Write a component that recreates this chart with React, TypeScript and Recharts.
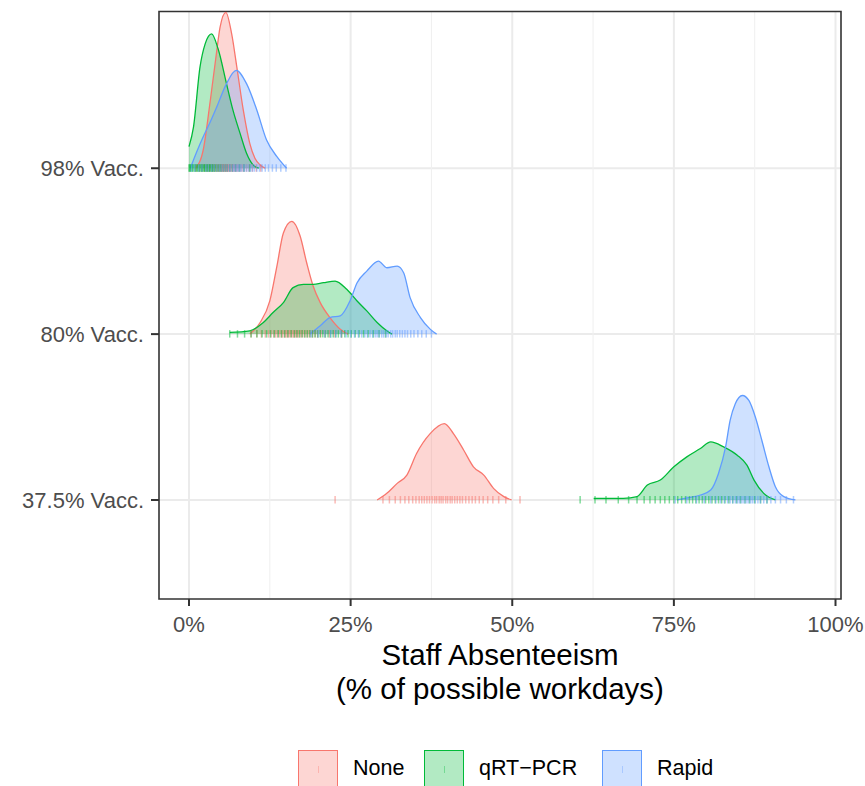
import React from 'react';
import {
  ComposedChart,
  Area,
  Line,
  Scatter,
  XAxis,
  YAxis,
  CartesianGrid,
  ReferenceArea,
  Legend,
} from 'recharts';

// ---------- data ----------
const groupLabels: Record<number, string> = { 1: '37.5% Vacc.', 2: '80% Vacc.', 3: '98% Vacc.' };
const yTicks = [1, 2, 3];
const xTicks = [0, 25, 50, 75, 100];
const xMinor = [12.5, 37.5, 62.5, 87.5];

const testNames = ['None', 'qRT\u2212PCR', 'Rapid'];
const testColors = ['#F8766D', '#00BA38', '#619CFF'];

// density ridges: x = % absenteeism, h = ridge height (in group units)
const none98 = [
  { x: 1.0, h: 0 }, { x: 2.2, h: 0.11 }, { x: 3.3, h: 0.41 }, { x: 4.3, h: 0.71 }, { x: 4.8, h: 0.85 },
  { x: 5.7, h: 0.94 }, { x: 6.6, h: 0.81 }, { x: 7.4, h: 0.61 }, { x: 8.4, h: 0.35 }, { x: 9.4, h: 0.15 },
  { x: 10.2, h: 0.06 }, { x: 11.0, h: 0.02 }, { x: 11.8, h: 0 },
];
const qpcr98 = [
  { x: 0, h: 0.13 }, { x: 0.7, h: 0.25 }, { x: 1.7, h: 0.61 }, { x: 2.5, h: 0.75 }, { x: 3.5, h: 0.81 },
  { x: 4.5, h: 0.72 }, { x: 5.8, h: 0.51 }, { x: 6.8, h: 0.35 }, { x: 7.9, h: 0.21 }, { x: 8.9, h: 0.09 },
  { x: 9.9, h: 0.02 }, { x: 10.8, h: 0 },
];
const rapid98 = [
  { x: 0.2, h: 0 }, { x: 1.2, h: 0.1 }, { x: 2.2, h: 0.19 }, { x: 3.3, h: 0.28 }, { x: 4.3, h: 0.37 },
  { x: 5.8, h: 0.51 }, { x: 7.3, h: 0.59 }, { x: 8.9, h: 0.51 }, { x: 10.5, h: 0.35 }, { x: 12.0, h: 0.17 },
  { x: 13.6, h: 0.07 }, { x: 15.1, h: 0 },
];
const none80 = [
  { x: 9.4, h: 0 }, { x: 11.0, h: 0.07 }, { x: 12.5, h: 0.2 }, { x: 13.6, h: 0.41 }, { x: 14.6, h: 0.61 },
  { x: 15.9, h: 0.68 }, { x: 17.2, h: 0.59 }, { x: 18.2, h: 0.43 }, { x: 19.2, h: 0.29 }, { x: 20.3, h: 0.19 },
  { x: 21.8, h: 0.1 }, { x: 23.4, h: 0.03 }, { x: 24.6, h: 0 },
];
const qpcr80 = [
  { x: 6.3, h: 0.01 }, { x: 9.4, h: 0.02 }, { x: 11.5, h: 0.07 }, { x: 13.0, h: 0.13 }, { x: 14.6, h: 0.19 },
  { x: 16.1, h: 0.28 }, { x: 17.7, h: 0.3 }, { x: 19.2, h: 0.3 }, { x: 20.8, h: 0.31 }, { x: 22.6, h: 0.32 },
  { x: 24.4, h: 0.27 }, { x: 26.0, h: 0.2 }, { x: 27.5, h: 0.14 }, { x: 29.1, h: 0.07 }, { x: 30.6, h: 0.02 },
  { x: 31.4, h: 0 },
];
const rapid80 = [
  { x: 18.7, h: 0 }, { x: 20.3, h: 0.05 }, { x: 21.8, h: 0.1 }, { x: 23.4, h: 0.11 }, { x: 24.9, h: 0.2 },
  { x: 26.0, h: 0.31 }, { x: 27.5, h: 0.38 }, { x: 29.3, h: 0.44 }, { x: 30.6, h: 0.4 }, { x: 32.2, h: 0.41 },
  { x: 33.2, h: 0.37 }, { x: 34.2, h: 0.22 }, { x: 35.8, h: 0.1 }, { x: 37.3, h: 0.03 }, { x: 38.3, h: 0 },
];
const none37 = [
  { x: 29.1, h: 0 }, { x: 30.6, h: 0.04 }, { x: 32.2, h: 0.1 }, { x: 33.7, h: 0.15 }, { x: 35.2, h: 0.28 },
  { x: 37.3, h: 0.4 }, { x: 39.5, h: 0.46 }, { x: 40.9, h: 0.4 }, { x: 42.5, h: 0.3 }, { x: 44.0, h: 0.2 },
  { x: 45.6, h: 0.15 }, { x: 47.1, h: 0.07 }, { x: 48.7, h: 0.02 }, { x: 49.9, h: 0 },
];
const qpcr37 = [
  { x: 62.6, h: 0.01 }, { x: 65.0, h: 0.01 }, { x: 67.2, h: 0.01 }, { x: 69.3, h: 0.02 }, { x: 70.9, h: 0.09 },
  { x: 72.9, h: 0.12 }, { x: 75.0, h: 0.2 }, { x: 77.0, h: 0.26 }, { x: 79.1, h: 0.31 }, { x: 80.7, h: 0.35 },
  { x: 82.7, h: 0.32 }, { x: 84.8, h: 0.27 }, { x: 86.3, h: 0.21 }, { x: 87.4, h: 0.12 }, { x: 88.9, h: 0.04 },
  { x: 90.7, h: 0 },
];
const rapid37 = [
  { x: 75.5, h: 0 }, { x: 77.5, h: 0.015 }, { x: 79.1, h: 0.03 }, { x: 80.7, h: 0.06 }, { x: 81.9, h: 0.16 },
  { x: 83.0, h: 0.32 }, { x: 83.7, h: 0.48 }, { x: 84.5, h: 0.58 }, { x: 85.6, h: 0.63 }, { x: 86.6, h: 0.6 },
  { x: 87.6, h: 0.5 }, { x: 88.6, h: 0.36 }, { x: 89.7, h: 0.2 }, { x: 90.7, h: 0.08 }, { x: 92.0, h: 0.02 },
  { x: 93.8, h: 0 },
];

// rug (individual simulation results), % absenteeism
const rugNone98 = [1.1, 1.6, 2.0, 2.4, 2.7, 3.0, 3.2, 3.5, 3.7, 3.9, 4.1, 4.3, 4.4, 4.6, 4.7, 4.9, 5.0, 5.1, 5.2, 5.3, 5.4, 5.5, 5.6, 5.7, 5.8, 5.9, 6.0, 6.1, 6.2, 6.4, 6.5, 6.7, 6.8, 7.0, 7.2, 7.4, 7.6, 7.9, 8.2, 8.5, 8.9, 9.3, 9.8, 10.4, 11.1];
const rugQpcr98 = [0, 0.1, 0.2, 0.3, 0.5, 0.6, 0.8, 1.0, 1.1, 1.3, 1.4, 1.6, 1.7, 1.9, 2.0, 2.1, 2.3, 2.4, 2.5, 2.7, 2.8, 2.9, 3.1, 3.2, 3.3, 3.5, 3.6, 3.7, 3.9, 4.0, 4.2, 4.4, 4.6, 4.8, 5.0, 5.3, 5.6, 5.9, 6.3, 6.7, 7.2, 7.8, 8.5, 9.4];
const rugRapid98 = [0.4, 0.9, 1.5, 2.0, 2.6, 3.0, 3.5, 3.9, 4.3, 4.7, 5.0, 5.3, 5.6, 5.9, 6.2, 6.4, 6.7, 6.9, 7.1, 7.3, 7.5, 7.7, 7.9, 8.1, 8.4, 8.6, 8.9, 9.2, 9.5, 9.8, 10.1, 10.5, 10.9, 11.3, 11.8, 12.3, 12.9, 13.5, 14.2, 15.0];
const rugNone80 = [9.6, 10.5, 11.2, 11.8, 12.3, 12.7, 13.1, 13.4, 13.7, 14.0, 14.3, 14.5, 14.8, 15.0, 15.2, 15.4, 15.6, 15.8, 16.0, 16.2, 16.4, 16.6, 16.8, 17.0, 17.3, 17.5, 17.8, 18.1, 18.4, 18.7, 19.1, 19.5, 19.9, 20.4, 21.0, 21.7, 22.5, 23.6];
const rugQpcr80 = [6.3, 7.5, 8.6, 9.6, 10.5, 11.3, 12.0, 12.6, 13.2, 13.8, 14.3, 14.8, 15.3, 15.8, 16.3, 16.7, 17.1, 17.5, 17.9, 18.3, 18.7, 19.1, 19.5, 19.9, 20.3, 20.7, 21.1, 21.5, 21.9, 22.3, 22.7, 23.1, 23.6, 24.1, 24.6, 25.1, 25.7, 26.3, 27.0, 27.7, 28.5, 29.4, 30.4];
const rugRapid80 = [18.9, 20.0, 21.0, 21.9, 22.7, 23.5, 24.3, 25.0, 25.6, 26.2, 26.7, 27.2, 27.6, 28.0, 28.4, 28.8, 29.1, 29.4, 29.8, 30.1, 30.5, 30.8, 31.2, 31.5, 31.9, 32.2, 32.6, 33.0, 33.4, 33.8, 34.3, 34.8, 35.4, 36.0, 36.7, 37.5];
const rugNone37 = [22.6, 30.0, 31.0, 31.9, 32.7, 33.4, 34.0, 34.6, 35.1, 35.6, 36.0, 36.4, 36.8, 37.2, 37.6, 38.0, 38.3, 38.7, 39.0, 39.3, 39.7, 40.0, 40.4, 40.7, 41.1, 41.5, 41.9, 42.3, 42.8, 43.3, 43.8, 44.3, 44.9, 45.5, 46.2, 47.0, 47.9, 49.0, 51.2];
const rugQpcr37 = [60.5, 62.8, 64.5, 66.4, 68.0, 69.3, 70.4, 71.3, 72.1, 72.9, 73.6, 74.3, 75.0, 75.6, 76.2, 76.8, 77.4, 77.9, 78.4, 78.9, 79.4, 79.9, 80.4, 80.9, 81.4, 81.9, 82.4, 82.9, 83.5, 84.1, 84.7, 85.3, 86.0, 86.7, 87.5, 88.4, 89.4];
const rugRapid37 = [75.2, 77.0, 78.5, 79.7, 80.7, 81.5, 82.2, 82.8, 83.3, 83.7, 84.1, 84.5, 84.8, 85.1, 85.4, 85.7, 86.0, 86.3, 86.6, 86.9, 87.2, 87.6, 88.0, 88.4, 88.9, 89.4, 90.0, 90.7, 91.5, 92.4, 93.5];

// ---------- layout constants ----------
const X_MIN = -4.64;
const X_MAX = 100.85;
const Y_MIN = 0.403;
const Y_MAX = 3.945;
const FONT = '"Liberation Sans", Arial, Helvetica, sans-serif';

type Pt = { x: number; h: number };
const ridges: { key: string; base: number; test: number; dens: Pt[]; rug: number[] }[] = [
  { key: 'n98', base: 3, test: 0, dens: none98, rug: rugNone98 },
  { key: 'q98', base: 3, test: 1, dens: qpcr98, rug: rugQpcr98 },
  { key: 'r98', base: 3, test: 2, dens: rapid98, rug: rugRapid98 },
  { key: 'n80', base: 2, test: 0, dens: none80, rug: rugNone80 },
  { key: 'q80', base: 2, test: 1, dens: qpcr80, rug: rugQpcr80 },
  { key: 'r80', base: 2, test: 2, dens: rapid80, rug: rugRapid80 },
  { key: 'n37', base: 1, test: 0, dens: none37, rug: rugNone37 },
  { key: 'q37', base: 1, test: 1, dens: qpcr37, rug: rugQpcr37 },
  { key: 'r37', base: 1, test: 2, dens: rapid37, rug: rugRapid37 },
];

const makeRugShape = (color: string) => (props: any) => {
  const { cx, cy } = props;
  if (cx == null || cy == null) return <g />;
  return <line x1={cx} x2={cx} y1={cy - 4} y2={cy + 3.5} stroke={color} strokeOpacity={0.5} strokeWidth={1.5} />;
};

const AxisTitle = (props: any) => {
  const vb = props.viewBox || { x: 159, y: 599, width: 682, height: 187 };
  const cx = vb.x + vb.width / 2;
  return (
    <text x={cx} y={vb.y + 66} textAnchor="middle" fill="#000" fontSize={29.5} fontFamily={FONT}>
      <tspan x={cx} dy={0}>Staff Absenteeism</tspan>
      <tspan x={cx} dy={33.5}>(% of possible workdays)</tspan>
    </text>
  );
};

const legendLefts = [298, 424, 602];
const legendTextLefts = [353, 479, 657];

function hexAlpha(hex: string, a: number) {
  const r = parseInt(hex.slice(1, 3), 16);
  const g = parseInt(hex.slice(3, 5), 16);
  const b = parseInt(hex.slice(5, 7), 16);
  return `rgba(${r},${g},${b},${a})`;
}

const LegendContent = () => (
  <div style={{ position: 'relative', width: 865, height: 37, fontFamily: FONT }}>
    {testNames.map((name, i) => (
      <React.Fragment key={name}>
        <div
          style={{
            position: 'absolute',
            left: legendLefts[i],
            top: 0,
            width: 40,
            height: 37,
            boxSizing: 'border-box',
            border: `1.5px solid ${testColors[i]}`,
            background: hexAlpha(testColors[i], 0.3),
          }}
        >
          <div
            style={{
              position: 'absolute',
              left: 19,
              top: 15,
              width: 1,
              height: 7,
              background: hexAlpha(testColors[i], 0.35),
            }}
          />
        </div>
        <div
          style={{
            position: 'absolute',
            left: legendTextLefts[i],
            top: 6,
            fontSize: 21.5,
            lineHeight: '25px',
            color: '#000',
            whiteSpace: 'nowrap',
          }}
        >
          {name}
        </div>
      </React.Fragment>
    ))}
  </div>
);

export default function App() {
  return (
    <div style={{ position: 'absolute', left: 0, top: 0, width: 865, height: 786, background: '#fff', fontFamily: FONT }}>
      <ComposedChart width={865} height={786} margin={{ top: 11.5, right: 24, bottom: 0, left: 0 }}>
        <CartesianGrid
          stroke="#EBEBEB"
          strokeWidth={2}
          verticalValues={xTicks}
          horizontalValues={yTicks}
        />
        <CartesianGrid stroke="#F0F0F0" strokeWidth={1.1} verticalValues={xMinor} horizontal={false} />
        <XAxis
          type="number"
          dataKey="x"
          domain={[X_MIN, X_MAX]}
          allowDataOverflow
          ticks={xTicks}
          interval={0}
          tickFormatter={(v: number) => `${v}%`}
          axisLine={false}
          tickLine={{ stroke: '#333333', strokeWidth: 2 }}
          tickSize={7}
          tickMargin={10}
          tick={{ fill: '#4D4D4D', fontSize: 22, fontFamily: FONT }}
          height={187}
          label={{ content: AxisTitle }}
        />
        <YAxis
          type="number"
          domain={[Y_MIN, Y_MAX]}
          allowDataOverflow
          ticks={yTicks}
          interval={0}
          tickFormatter={(v: number) => groupLabels[v] ?? ''}
          axisLine={false}
          tickLine={{ stroke: '#333333', strokeWidth: 2 }}
          tickSize={8}
          tickMargin={7}
          tick={{ fill: '#4D4D4D', fontSize: 22, fontFamily: FONT }}
          width={159}
        />
        {ridges.map((r) => {
          const color = testColors[r.test];
          return [
            <Area
              key={r.key + '-a'}
              data={r.dens}
              dataKey={(d: Pt) => [r.base, r.base + d.h]}
              type="monotone"
              fill={color}
              fillOpacity={0.3}
              stroke="none"
              isAnimationActive={false}
              legendType="none"
              name={testNames[r.test]}
            />,
            <Line
              key={r.key + '-l'}
              data={r.dens}
              dataKey={(d: Pt) => r.base + d.h}
              type="monotone"
              stroke={color}
              strokeWidth={1.3}
              dot={false}
              activeDot={false}
              isAnimationActive={false}
              legendType="none"
            />,
            <Scatter
              key={r.key + '-s'}
              data={r.rug.map((x) => ({ x, y: r.base }))}
              dataKey="y"
              shape={makeRugShape(color)}
              isAnimationActive={false}
              legendType="none"
            />,
          ];
        })}
        <ReferenceArea
          x1={X_MIN}
          x2={X_MAX}
          y1={Y_MIN}
          y2={Y_MAX}
          fill="none"
          fillOpacity={0}
          stroke="#333333"
          strokeWidth={1.6}
          ifOverflow="visible"
        />
        <Legend
          layout="horizontal"
          verticalAlign="middle"
          align="center"
          content={LegendContent}
          wrapperStyle={{ position: 'absolute', left: 0, top: 750, width: 865, height: 37 }}
        />
      </ComposedChart>
    </div>
  );
}
